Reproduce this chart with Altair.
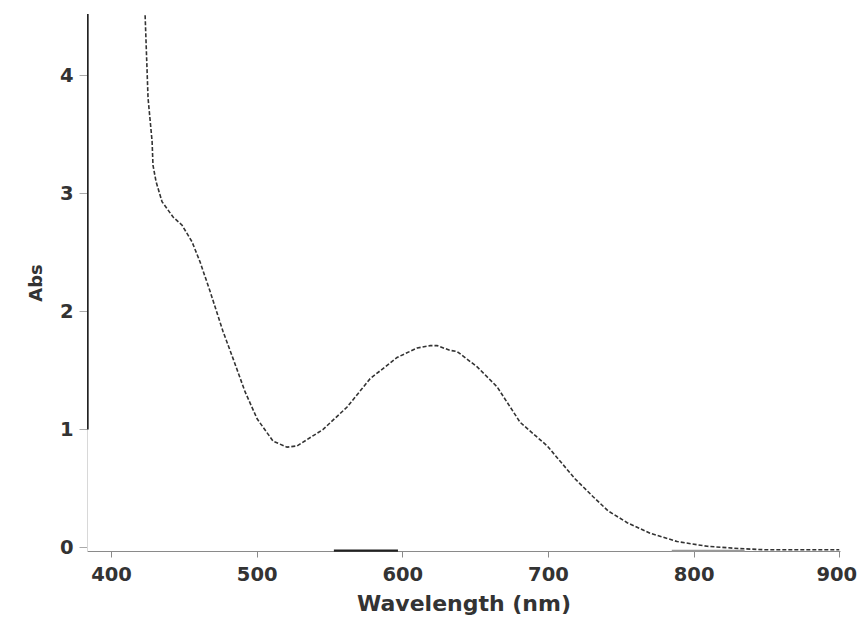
import altair as alt
import pandas as pd

# Spectrum (wavelength nm, absorbance)
wavelength = [423.4, 425.4, 428.2, 428.8, 430.9, 435.0, 442.6, 448.8, 455.6, 461.1,
              468.0, 476.9, 483.8, 492.0, 500.3, 511.3, 520.9, 527.7, 545.6, 562.1,
              577.9, 596.4, 610.2, 619.1, 623.9, 632.8, 637.6, 651.4, 665.1, 680.9,
              699.5, 708.4, 718.7, 731.0, 741.3, 754.4, 770.2, 788.7, 809.3, 832.0,
              850.5, 900.0]
absorbance = [4.51, 3.81, 3.44, 3.24, 3.10, 2.93, 2.80, 2.73, 2.59, 2.42,
              2.17, 1.83, 1.60, 1.32, 1.09, 0.90, 0.85, 0.86, 1.00, 1.19,
              1.43, 1.61, 1.69, 1.71, 1.71, 1.67, 1.66, 1.53, 1.36, 1.06,
              0.86, 0.73, 0.58, 0.43, 0.31, 0.21, 0.12, 0.05, 0.01, -0.01,
              -0.02, -0.02]

# Steep edge drawn at the left border
edge_wavelength = [383.9, 383.9]
edge_absorbance = [1.0, 4.52]

# Small baseline artefacts on the x axis
base_wavelength = [553, 597]
base_absorbance = [-0.027, -0.027]
base2_wavelength = [785, 835]
base2_absorbance = [-0.027, -0.027]

x_ticks = [400, 500, 600, 700, 800, 900]
y_ticks = [0, 1, 2, 3, 4]

spec = pd.DataFrame({"wl": wavelength, "abs": absorbance})
edge = pd.DataFrame({"wl": edge_wavelength, "abs": edge_absorbance})
base = pd.DataFrame({"wl": base_wavelength, "abs": base_absorbance})
base2 = pd.DataFrame({"wl": base2_wavelength, "abs": base2_absorbance})

FONT = "DejaVu Sans"

x_enc = alt.X("wl:Q", title="Wavelength (nm)",
              scale=alt.Scale(domain=[383.5, 900.5], nice=False, zero=False),
              axis=alt.Axis(values=x_ticks, grid=False, tickSize=6, labelPadding=8,
                            format="d",
                            labelOffset={"condition": {"test": "datum.value == 900", "value": -3}, "value": 0},
                            domainColor="#8a8a8a", tickColor="#8a8a8a",
                            labelFont=FONT, labelFontSize=19.5, labelFontWeight="bold",
                            labelColor="#333", titleFont=FONT, titleFontSize=22,
                            titleFontWeight="bold", titleColor="#333", titlePadding=10,
                            labelFlush=False))
y_enc = alt.Y("abs:Q", title="Abs",
              scale=alt.Scale(domain=[-0.03, 4.52], nice=False, zero=False),
              axis=alt.Axis(values=y_ticks, grid=False, tickSize=8, labelPadding=6,
                            format="d",
                            domainColor="#d8d8d8", tickColor="#aaaaaa",
                            labelFont=FONT, labelFontSize=19.5, labelFontWeight="bold",
                            labelColor="#333", titleFont=FONT, titleFontSize=18,
                            titleFontWeight="bold", titleColor="#333", titlePadding=14,
                            labelFlush=False))

curve = alt.Chart(spec).mark_line(color="#333333", strokeWidth=1.6,
                                  strokeDash=[4, 2], clip=True).encode(
    x=x_enc, y=y_enc, order="wl:Q")
edge_line = alt.Chart(edge).mark_line(color="#222222", strokeWidth=2.2, clip=True).encode(
    x="wl:Q", y="abs:Q")
base_line = alt.Chart(base).mark_line(color="#222222", strokeWidth=2.2).encode(
    x="wl:Q", y="abs:Q")
base_line2 = alt.Chart(base2).mark_line(color="#999999", strokeWidth=2.0).encode(
    x="wl:Q", y="abs:Q")

chart = alt.layer(curve, edge_line, base_line, base_line2).properties(
    width=753, height=537,
    background="white",
    autosize=alt.AutoSizeParams(type="none"),
    padding={"left": 79, "top": 6, "right": 18, "bottom": 70},
).configure_view(strokeWidth=0)

chart.save("out.html", embed_options={"renderer": "svg", "actions": False})
